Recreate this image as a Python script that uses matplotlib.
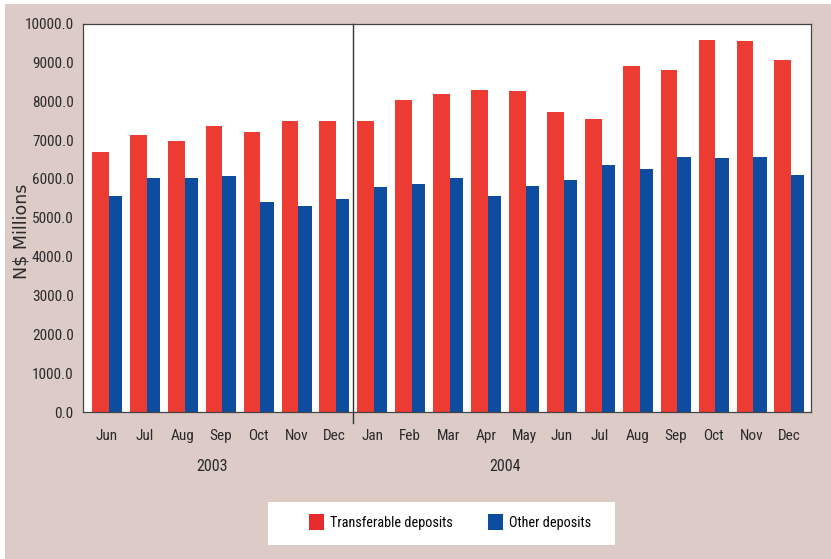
import numpy as np
import matplotlib
matplotlib.use("Agg")
import matplotlib.pyplot as plt
from matplotlib.patches import Rectangle, Patch

# data
months = ["Jun", "Jul", "Aug", "Sep", "Oct", "Nov", "Dec",
          "Jan", "Feb", "Mar", "Apr", "May", "Jun", "Jul", "Aug", "Sep", "Oct", "Nov", "Dec"]
years = ["2003", "2004"]
transferable = [6680, 7120, 6975, 7350, 7200, 7500, 7500,
                7500, 8030, 8175, 8300, 8260, 7710, 7540, 8910, 8810, 9570, 9540, 9060]
other = [5560, 6020, 6020, 6075, 5405, 5305, 5485,
         5795, 5875, 6020, 5560, 5820, 5975, 6360, 6255, 6565, 6540, 6565, 6100]

bg = "#dccbc7"
red = "#ec3b32"
blue = "#0d4c9e"
narrow = ["Roboto Condensed", "PT Sans Narrow", "Archivo Narrow", "Liberation Sans", "DejaVu Sans"]
txt = "#2a2a2a"

W, H = 831, 559
fig = plt.figure(figsize=(W / 100, H / 100), dpi=100, facecolor=bg)
# thin white edge at top and left of the panel
fig.patches.append(Rectangle((0, 0), 5 / W, 1, transform=fig.transFigure,
                             facecolor="white", edgecolor="none", zorder=-5))
fig.patches.append(Rectangle((0, 1 - 4 / H), 1, 4 / H, transform=fig.transFigure,
                             facecolor="white", edgecolor="none", zorder=-5))

ax = fig.add_axes([82.7 / W, 1 - 412 / H, 728 / W, 388.5 / H])
ax.set_facecolor("white")

x = np.arange(len(months))
wr, wb = 0.44, 0.35
ax.bar(x - 0.395, transferable, width=wr, align="edge", color=red, linewidth=0)
ax.bar(x + 0.045, other, width=wb, align="edge", color=blue, linewidth=0)

ax.set_xlim(-0.64, 18.56)
ax.set_ylim(0, 10000)
ax.set_yticks(np.arange(0, 10001, 1000))
ax.set_yticklabels([f"{v:.1f}" for v in np.arange(0, 10001, 1000)], family=narrow, fontsize=11)
ax.set_xticks(x)
ax.set_xticklabels(months, family=narrow, fontsize=11)
ax.tick_params(axis="y", length=0, pad=6.5, colors=txt)
ax.tick_params(axis="x", length=0, pad=12, colors=txt)
for s in ax.spines.values():
    s.set_color("#444444")
    s.set_linewidth(0.9)

# separator between years
tr = ax.get_xaxis_transform()
ax.plot([6.5, 6.5], [-0.028, 1.0], transform=tr, color="#333333", lw=1.0, clip_on=False)
ax.text(2.76, -0.139, years[0], transform=tr, ha="center", va="center",
        family=narrow, fontsize=11.5, color=txt)
ax.text(10.5, -0.139, years[1], transform=tr, ha="center", va="center",
        family=narrow, fontsize=11.5, color=txt)

fig.text(22 / W, 1 - 231 / H, r"N\$ Millions", rotation=90, ha="center", va="center",
         fontsize=12.5, family=["DejaVu Sans"], color=txt)

# legend box
fig.patches.append(Rectangle((268 / W, 1 - 545 / H), 347 / W, 43 / H, transform=fig.transFigure,
                             facecolor="white", edgecolor="none", zorder=1))
handles = [Patch(facecolor="#e52b2b", edgecolor="none", label="Transferable deposits"),
           Patch(facecolor=blue, edgecolor="none", label="Other deposits")]
leg = fig.legend(handles=handles, loc="center", bbox_to_anchor=(450 / W, 1 - 522 / H),
                 ncol=2, frameon=False, prop={"family": narrow, "size": 10.3},
                 handlelength=1.05, handleheight=1.35, handletextpad=0.4, columnspacing=2.5)
leg.set_zorder(2)

fig.savefig("out.png", dpi=100, facecolor=fig.get_facecolor())
